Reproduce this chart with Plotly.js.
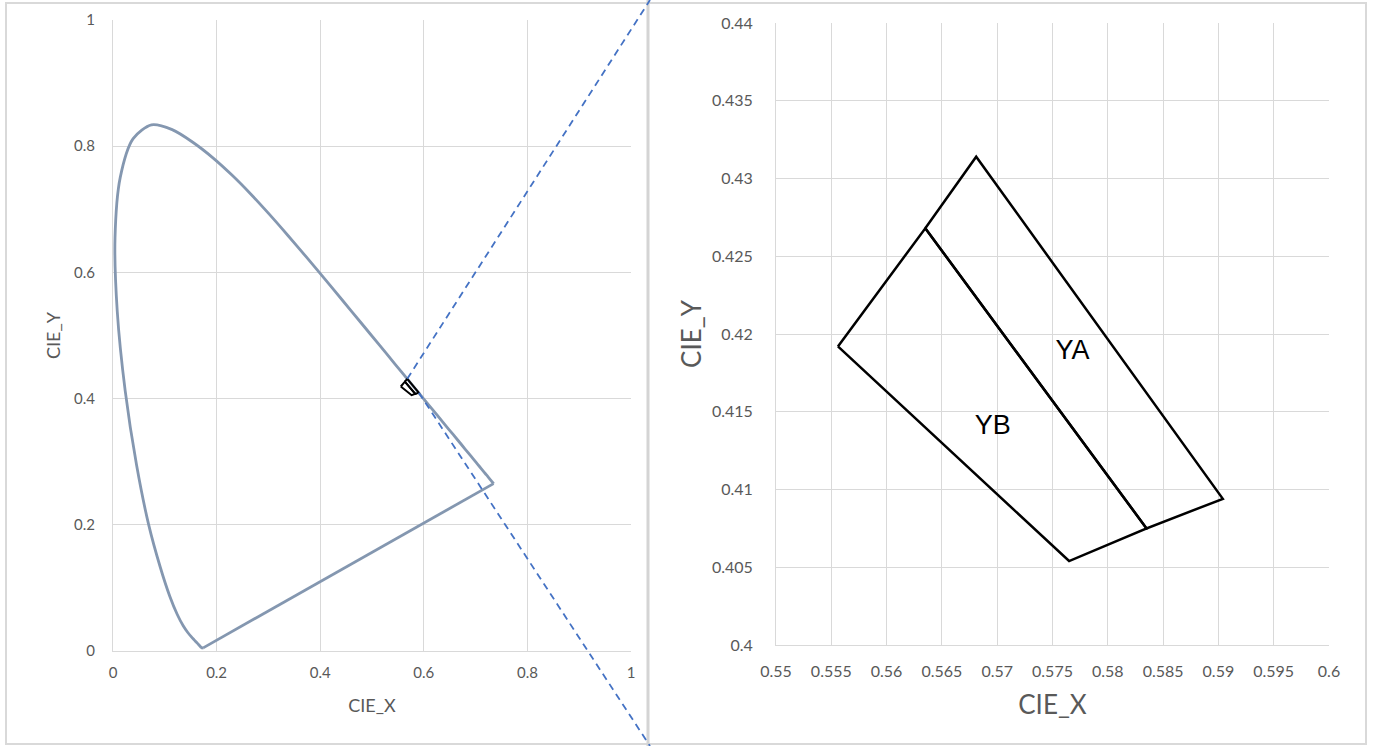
<!DOCTYPE html>
<html>
<head>
<meta charset="utf-8">
<script src="https://cdn.plot.ly/plotly-3.0.1.min.js"></script>
<style>html,body{margin:0;padding:0;background:#fff;}#chart{width:1375px;height:746px;}</style>
</head>
<body>
<div id="chart"></div>
<script>
// CIE 1931 spectral locus (380-700 nm, 5 nm steps)
var locusX = [0.1741,0.1740,0.1738,0.1736,0.1733,0.1730,0.1726,0.1721,0.1714,0.1703,0.1689,0.1669,0.1644,0.1611,0.1566,0.1510,0.1440,0.1355,0.1241,0.1096,0.0913,0.0687,0.0454,0.0235,0.0082,0.0039,0.0139,0.0389,0.0743,0.1142,0.1547,0.1929,0.2296,0.2658,0.3016,0.3373,0.3731,0.4087,0.4441,0.4788,0.5125,0.5448,0.5752,0.6029,0.6270,0.6482,0.6658,0.6801,0.6915,0.7006,0.7079,0.7140,0.7190,0.7230,0.7260,0.7283,0.7300,0.7311,0.7320,0.7327,0.7334,0.7340,0.7344,0.7346,0.7347];
var locusY = [0.0050,0.0050,0.0049,0.0049,0.0048,0.0048,0.0048,0.0048,0.0051,0.0058,0.0069,0.0086,0.0109,0.0138,0.0177,0.0227,0.0297,0.0399,0.0578,0.0868,0.1327,0.2007,0.2950,0.4127,0.5384,0.6548,0.7502,0.8120,0.8338,0.8262,0.8059,0.7816,0.7543,0.7243,0.6923,0.6589,0.6245,0.5896,0.5547,0.5202,0.4866,0.4544,0.4242,0.3965,0.3725,0.3514,0.3340,0.3197,0.3083,0.2993,0.2920,0.2859,0.2809,0.2770,0.2740,0.2717,0.2700,0.2689,0.2680,0.2673,0.2666,0.2660,0.2656,0.2654,0.2653];
// Purple line: red end back to 380 nm
var purpleX = [0.7347, 0.1741];
var purpleY = [0.2653, 0.0050];

// Bin polygons
var yaX = [0.5635, 0.5681, 0.5904, 0.5835, 0.5635];
var yaY = [0.4268, 0.4314, 0.4094, 0.4075, 0.4268];
var ybX = [0.5556, 0.5635, 0.5835, 0.5765, 0.5556];
var ybY = [0.4192, 0.4268, 0.4075, 0.4054, 0.4192];

var binNames = ['YA', 'YB'];
var labelX = [0.5768, 0.5696];
var labelY = [0.4188, 0.4140];

var mainTicks = [0, 0.2, 0.4, 0.6, 0.8, 1];

var W = 1375, H = 746;
var dom1x = [113/W, 631/W], dom1y = [1-651/H, 1-20/H];
var dom2x = [776/W, 1329/W], dom2y = [1-645/H, 1-23/H];
var range1 = [0, 1], range2x = [0.55, 0.6], range2y = [0.4, 0.44];

var grid = '#d9d9d9', tickCol = '#595959';
var font = 'Lato, "Open Sans", sans-serif';

var locusLine = {color: '#8497b0', width: 2.8, shape: 'spline', smoothing: 0.8};
var purpleLine = {color: '#8497b0', width: 2.8};
var polyStyle1 = {color: '#000000', width: 2};
var polyStyle2 = {color: '#000000', width: 2.5};

var traces = [
  {x: locusX, y: locusY, type: 'scatter', mode: 'lines', line: locusLine, xaxis: 'x', yaxis: 'y', hoverinfo: 'skip'},
  {x: purpleX, y: purpleY, type: 'scatter', mode: 'lines', line: purpleLine, xaxis: 'x', yaxis: 'y', hoverinfo: 'skip'},
  {x: yaX, y: yaY, type: 'scatter', mode: 'lines', line: polyStyle1, xaxis: 'x', yaxis: 'y', name: 'YA'},
  {x: ybX, y: ybY, type: 'scatter', mode: 'lines', line: polyStyle1, xaxis: 'x', yaxis: 'y', name: 'YB'},
  {x: yaX, y: yaY, type: 'scatter', mode: 'lines', line: polyStyle2, xaxis: 'x2', yaxis: 'y2', name: 'YA'},
  {x: ybX, y: ybY, type: 'scatter', mode: 'lines', line: polyStyle2, xaxis: 'x2', yaxis: 'y2', name: 'YB'},
  {x: labelX, y: labelY, text: binNames, type: 'scatter', mode: 'text', textposition: 'middle center',
   textfont: {family: '"Liberation Sans", Arial, sans-serif', size: 27, color: '#000000'}, xaxis: 'x2', yaxis: 'y2'}
];

function toPaper(x, y, rx, ry, dx, dy) {
  return [dx[0] + (x - rx[0]) / (rx[1] - rx[0]) * (dx[1] - dx[0]),
          dy[0] + (y - ry[0]) / (ry[1] - ry[0]) * (dy[1] - dy[0])];
}
var topV = toPaper(yaX[1], yaY[1], range1, range1, dom1x, dom1y);
var rightV = toPaper(yaX[2], yaY[2], range1, range1, dom1x, dom1y);
var sepX = 650/W;

var axisBase = {
  showgrid: true, gridcolor: grid, gridwidth: 1, zeroline: false,
  showline: true, linecolor: grid, linewidth: 1, mirror: false,
  ticks: 'outside', tickcolor: 'rgba(0,0,0,0)', fixedrange: true,
  tickfont: {family: font, size: 15, color: tickCol}
};
function ax(extra) { return Object.assign({}, axisBase, extra); }

var layout = {
  width: W, height: H,
  margin: {l: 0, r: 0, t: 0, b: 0},
  paper_bgcolor: '#ffffff', plot_bgcolor: '#ffffff',
  showlegend: false,
  xaxis: ax({domain: dom1x, range: range1, tickvals: mainTicks, ticklen: 8, anchor: 'y',
    title: {text: 'CIE_X', font: {family: font, size: 18, color: tickCol}, standoff: 19}}),
  yaxis: ax({domain: dom1y, range: range1, tickvals: mainTicks, ticklen: 14, anchor: 'x',
    title: {text: 'CIE_Y', font: {family: font, size: 18, color: tickCol}, standoff: 8}}),
  xaxis2: ax({domain: dom2x, range: range2x, dtick: 0.005, tick0: 0.55, ticklen: 12, anchor: 'y2',
    tickfont: {family: font, size: 16, color: tickCol},
    title: {text: 'CIE_X', font: {family: font, size: 26, color: tickCol}, standoff: 16}}),
  yaxis2: ax({domain: dom2y, range: range2y, dtick: 0.005, tick0: 0.4, ticklen: 19, anchor: 'x2',
    tickfont: {family: font, size: 16, color: tickCol},
    title: {text: 'CIE_Y', font: {family: font, size: 26, color: tickCol}, standoff: 2}}),
  shapes: [
    {type: 'rect', xref: 'paper', yref: 'paper', x0: 6/W, x1: 1366/W, y0: 1-744/H, y1: 1-3/H,
     line: {color: '#d9d9d9', width: 2}, fillcolor: 'rgba(0,0,0,0)', layer: 'below'},
    {type: 'rect', xref: 'paper', yref: 'paper', x0: 646.5/W, x1: 649.5/W, y0: 0, y1: 1,
     line: {width: 0}, fillcolor: '#d4d4d4', layer: 'below'},
    {type: 'line', xref: 'paper', yref: 'paper', x0: topV[0], y0: topV[1], x1: sepX, y1: 1,
     line: {color: '#4472c4', width: 1.8, dash: '7px,5px'}},
    {type: 'line', xref: 'paper', yref: 'paper', x0: rightV[0], y0: rightV[1], x1: sepX, y1: 0,
     line: {color: '#4472c4', width: 1.8, dash: '7px,5px'}}
  ]
};

Plotly.newPlot('chart', traces, layout, {displayModeBar: false, staticPlot: true});
</script>
</body>
</html>
